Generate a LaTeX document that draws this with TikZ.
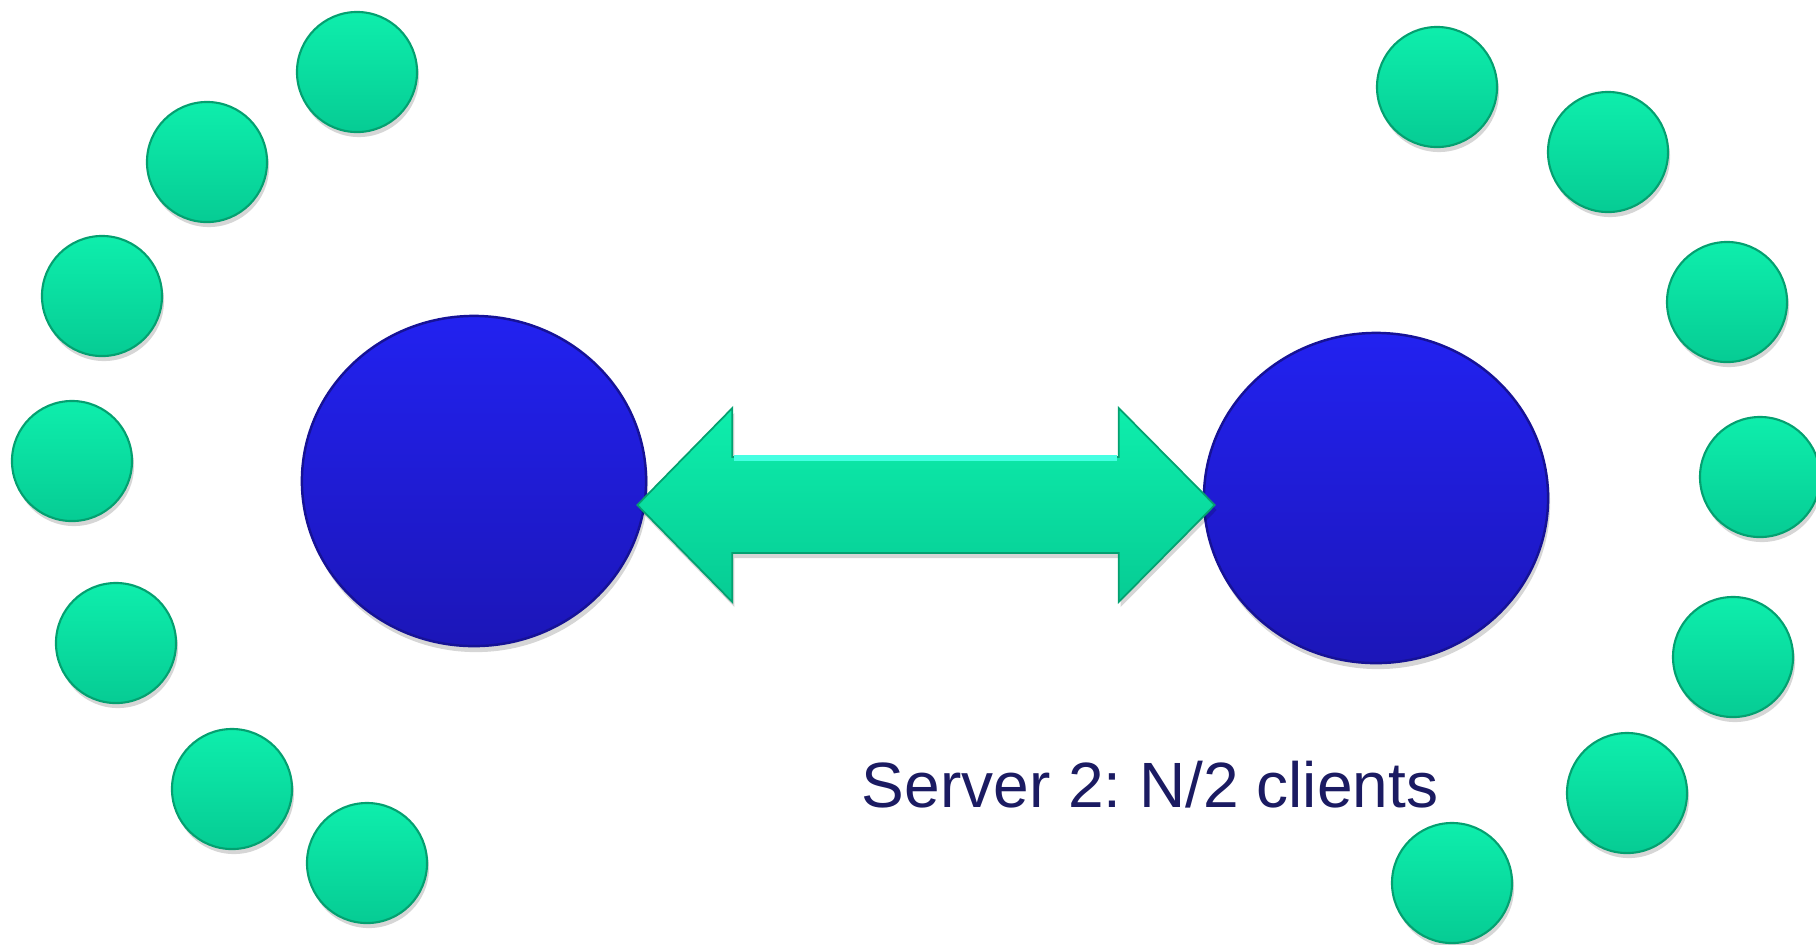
\documentclass[tikz,border=0pt]{standalone}
\usepackage{fontspec}
\setmainfont{Liberation Sans}
\usetikzlibrary{shapes.geometric,shadows,calc}
\frenchspacing

\definecolor{greentop}{RGB}{14,238,172}
\definecolor{greenbot}{RGB}{6,204,148}
\definecolor{greenedge}{RGB}{4,160,112}
\definecolor{greenhi}{RGB}{70,255,226}
\definecolor{bluetop}{RGB}{34,34,240}
\definecolor{bluebot}{RGB}{28,22,184}
\definecolor{blueedge}{RGB}{22,18,150}
\definecolor{labelnavy}{RGB}{27,27,98}

\tikzset{
  client/.style={circle, inner sep=0pt, minimum size=1.2cm,
    top color=greentop, bottom color=greenbot,
    draw=greenedge, line width=0.6pt,
    drop shadow={shadow xshift=0.02cm, shadow yshift=-0.05cm, opacity=0.16, fill=black}},
  server/.style={ellipse, inner sep=0pt, minimum width=3.44cm, minimum height=3.3cm,
    top color=bluetop, bottom color=bluebot,
    draw=blueedge, line width=0.7pt,
    drop shadow={shadow xshift=0.02cm, shadow yshift=-0.06cm, opacity=0.16, fill=black}},
  linkarrow/.style={top color=greentop, bottom color=greenbot,
    draw=greenedge, line width=0.5pt, line join=miter,
    drop shadow={shadow xshift=0.02cm, shadow yshift=-0.05cm, opacity=0.16, fill=black}},
  caption/.style={text=labelnavy, font=\fontsize{18.2}{22}\selectfont, inner sep=0pt}
}

\begin{document}
\begin{tikzpicture}[x=0.01cm,y=-0.01cm]
\useasboundingbox (0,0) rectangle (1816,944);

% servers
\node[server] (S1) at (474,481) {};
\node[server] (S2) at (1376,498) {};

% clients of server 1
\node[client] (L1) at (357,72) {};
\node[client] (L2) at (207,162) {};
\node[client] (L3) at (102,296) {};
\node[client] (L4) at (72,461) {};
\node[client] (L5) at (116,643) {};
\node[client] (L6) at (232,789) {};
\node[client] (L7) at (367,863) {};

% clients of server 2
\node[client] (R1) at (1437,87) {};
\node[client] (R2) at (1608,152) {};
\node[client] (R3) at (1727,302) {};
\node[client] (R4) at (1760,477) {};
\node[client] (R5) at (1733,657) {};
\node[client] (R6) at (1627,793) {};
\node[client] (R7) at (1452,883) {};

% double block arrow linking the two servers
\coordinate (tipL) at ($(S1.east)+(-10,24)$);
\coordinate (tipR) at ($(S2.west)+(12,7)$);
\path[linkarrow] (tipL) -- ++(95,-97) -- ++(0,49)
  -- ($(tipR)+(-96,-48)$) -- ++(0,-49) -- (tipR) -- ++(-96,97)
  -- ++(0,-49) -- ($(tipL)+(95,48)$) -- ++(0,49) -- cycle;
\draw[greenhi, line width=1.6pt] ($(tipL)+(97,-47)$) -- ($(tipR)+(-98,-47)$);

\node[caption, anchor=base] (cap) at (1150,807) {Server 2: N/2 clients};
\end{tikzpicture}
\end{document}
